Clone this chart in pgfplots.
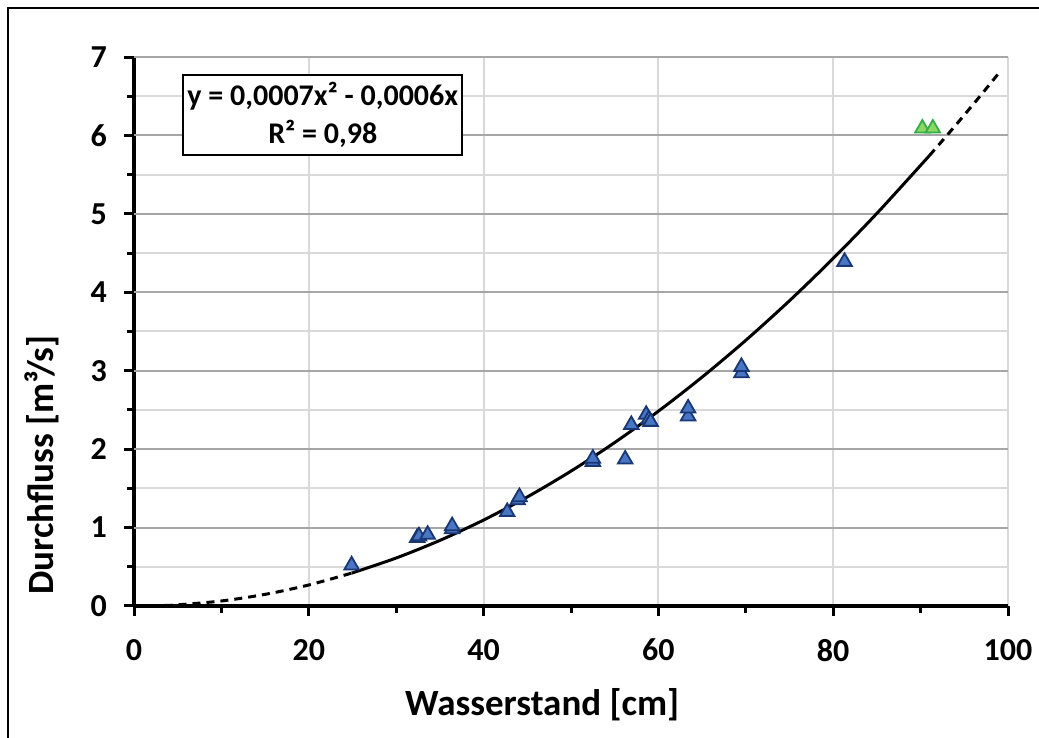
\documentclass[border=0pt]{standalone}
\usepackage{fontspec}
\setmainfont{Carlito}
\usepackage{pgfplots}
\pgfplotsset{compat=1.18}
\definecolor{majgrid}{RGB}{166,166,166}
\definecolor{mingrid}{RGB}{217,217,217}
\definecolor{mfill}{RGB}{72,118,196}
\definecolor{medge}{RGB}{25,55,115}
\definecolor{gfill}{RGB}{140,214,100}
\definecolor{gedge}{RGB}{50,175,70}
\begin{document}
\begin{tikzpicture}
\useasboundingbox (0,0) rectangle (519.5pt,369pt);
\draw[line width=1pt] (4pt,0) -- (4pt,365pt) -- (519.5pt,365pt);
\begin{axis}[
  at={(67pt,66pt)}, anchor=south west,
  width=437pt, height=274.5pt, scale only axis,
  xmin=0, xmax=100, ymin=0, ymax=7,
  axis x line*=bottom, axis y line*=left,
  axis line style={line width=1.6pt, black, -},
  xtick={0,20,...,100}, minor xtick={10,30,50,70,90},
  ytick={0,1,...,7}, minor ytick={0.5,1.5,...,6.5},
  tick align=outside,
  major tick length=5pt, minor tick length=3.5pt,
  every tick/.style={black, line width=1.5pt},
  xmajorgrids, yminorgrids,
  major grid style={mingrid, line width=1pt},
  minor grid style={mingrid, line width=1pt},
  extra y ticks={1,2,...,7}, extra y tick labels={},
  extra y tick style={grid=major, major grid style={majgrid, line width=1pt}, major tick length=0pt},
  /pgf/number format/assume math mode=true,
  ticklabel style={font=\fontsize{16}{16}\selectfont\bfseries},
  yticklabel style={xshift=-5pt},
  xticklabel style={yshift=-8pt},
  xlabel={Wasserstand [cm]},
  ylabel={Durchfluss [m³/s]},
  label style={font=\fontsize{18.5}{18.5}\selectfont\bfseries},
  xlabel style={at={(axis description cs:0.467,0)}, anchor=center, yshift=-49.5pt},
  ylabel style={at={(axis description cs:-0.105,0.257)}, anchor=center, rotate=0},
  clip=false,
]
\addplot[only marks, mark=triangle*, mark size=4.2pt, mark options={fill=mfill, draw=medge, line width=0.9pt}] coordinates {
(24.9,0.52) (32.4,0.87) (32.6,0.89) (33.6,0.91) (36.4,0.98) (36.4,1.02)
(42.7,1.20) (43.9,1.35) (44.1,1.39) (52.5,1.84) (52.5,1.88) (56.2,1.87)
(56.9,2.31) (58.6,2.44) (58.9,2.38) (59.1,2.35) (63.4,2.42) (63.4,2.52)
(69.5,2.97) (69.5,3.05) (81.3,4.39)
};
\addplot[only marks, mark=triangle*, mark size=4.2pt, mark options={fill=gfill, draw=gedge, line width=0.9pt}] coordinates {
(90.2,6.09) (91.4,6.09)
};
\addplot[black, line width=1.5pt, dash pattern=on 4pt off 3pt, smooth] coordinates {
(3.5,0.0065) (5,0.0145) (10,0.064) (15,0.1485) (20,0.268) (25,0.4225)
};
\addplot[black, line width=1.5pt, dash pattern=on 4pt off 3pt, smooth] coordinates {
(91,5.742) (93,5.9985) (95,6.2605) (97,6.528) (99.2,6.829)
};
\addplot[black, line width=1.5pt, smooth] coordinates {
(24.9,0.419) (30,0.612) (35,0.8365) (40,1.096) (45,1.3905) (50,1.72) (55,2.0845)
(60,2.484) (65,2.9185) (70,3.388) (75,3.8925) (80,4.432) (85,5.0065) (91,5.742)
};
\node[draw=black, line width=0.8pt, fill=white, align=center, minimum width=139.5pt, minimum height=40pt, inner sep=2pt, font=\fontsize{15}{19}\selectfont\bfseries]
  at (rel axis cs:0.216,0.894) {y = 0,0007x² - 0,0006x\\R² = 0,98};
\end{axis}
\end{tikzpicture}
\end{document}
